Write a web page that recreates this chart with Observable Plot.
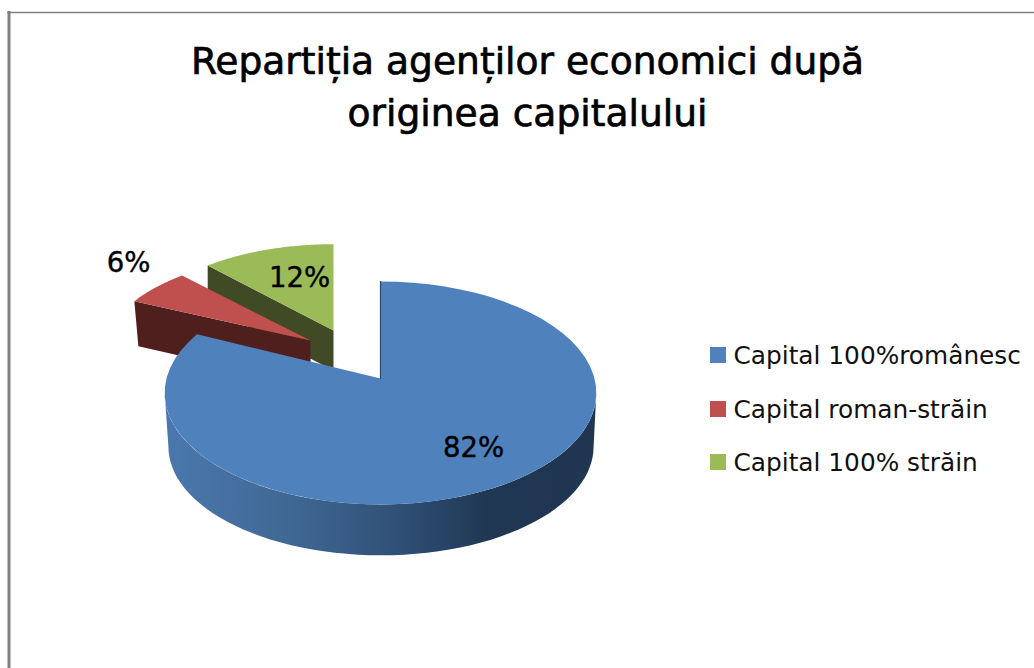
<!DOCTYPE html>
<html><head><meta charset="utf-8">
<script src="https://cdn.jsdelivr.net/npm/d3@7"></script>
<script src="https://cdn.jsdelivr.net/npm/@observablehq/plot@0.6"></script>
<style>html,body{margin:0;padding:0;background:#fff}svg{display:block}</style>
</head><body><div id="chart"></div>
<script>
const categories = ["Capital 100%românesc", "Capital roman-străin", "Capital 100% străin"];
const shares = [82, 6, 12];
const titleLines = ["Repartiția agenților economici după", "originea capitalului"];
const topColors = ["#4f81bd", "#c0504d", "#9bbb59"];
const wallColors = ["#1f3550", "#4f1f1e", "#404a24"];

const W = 1034, H = 668, FONT = "Tahoma, 'DejaVu Sans', sans-serif";
const persp = 0.13, R = 214, A = 109.6;
// angular extents in degrees, clockwise from 12 o'clock
const starts = [], ends = [];
shares.reduce((acc, s, i) => { starts[i] = acc; ends[i] = acc + s * 3.6; return ends[i]; }, 0);

const pt = (deg, o) => {
  const t = deg * Math.PI / 180, s = 1 + persp * Math.cos(t);
  return {x: o.x + o.sx * R * Math.sin(t) / s, y: o.y - o.sy * A * Math.cos(t) / s};
};
const arc = (a, b, o) => d3.range(0, 61).map(k => pt(a + (b - a) * k / 60, o));

const blueTop = {x: 380, y: 378, sx: 1, sy: 1};
const blueBase = {x: 380.5, y: 432, sx: 0.985, sy: 0.975};
const redTop = {x: 310, y: 340, sx: 0.96, sy: 0.89};
const greenTop = {x: 333, y: 330, sx: 0.94, sy: 0.89};
const apex = o => ({x: o.x, y: o.y});
const sector = (a, b, o) => [apex(o), ...arc(a, b, o)];
const drop = (p, d) => ({x: p.x, y: p.y + d});

const poly = (pts, fill) => Plot.line(pts, {x: "x", y: "y", fill, stroke: "none", curve: "linear-closed"});

const gradient = () => {
  const defs = d3.create("svg:defs");
  const g = defs.append("linearGradient").attr("id", "blueSide").attr("x1", 0).attr("x2", 1).attr("y1", 0).attr("y2", 0);
  [[0, "#4a78ae"], [0.3, "#3f6793"], [0.55, "#2f4f75"], [0.75, "#203753"], [1, "#1f3550"]]
    .forEach(([o, c]) => g.append("stop").attr("offset", o).attr("stop-color", c));
  return defs.node();
};

// green wall (radial face towards the viewer) and top
const gA = pt(ends[1], greenTop);
const greenWall = [apex(greenTop), gA, drop(gA, 40), drop(apex(greenTop), 40)];
// red wall
const rA = pt(starts[1], redTop);
const redWall = [apex(redTop), rA, {x: rA.x + 4, y: rA.y + 45}, drop(apex(redTop), 45)];
// blue outer wall, between the silhouette tangents of the perspective ellipse
const blueWall = [...arc(97.5, 262.5, blueTop), ...arc(262.5, 97.5, blueBase)];
// thin blue wall seen at the 12 o'clock cut
const backEdge = [apex(blueTop), pt(0, blueTop)];

const labels = [
  {text: `${shares[0]}%`, x: 473, y: 448},
  {text: `${shares[1]}%`, x: 128, y: 263},
  {text: `${shares[2]}%`, x: 299, y: 278}
];
const legendY = [355, 409, 462];

const chart = Plot.plot({
  width: W, height: H, margin: 0,
  x: {domain: [0, W], range: [0, W], axis: null},
  y: {domain: [0, H], range: [0, H], axis: null},
  marks: [
    gradient,
    Plot.ruleX([8.5], {y1: 11, y2: H, stroke: "#808080", strokeWidth: 3}),
    Plot.ruleY([12], {x1: 7, x2: W, stroke: "#808080", strokeWidth: 1.3}),
    poly(greenWall, wallColors[2]),
    poly(sector(starts[2], ends[2], greenTop), topColors[2]),
    poly(redWall, wallColors[1]),
    poly(sector(starts[1], ends[1], redTop), topColors[1]),
    poly(blueWall, "url(#blueSide)"),
    poly(sector(starts[0], ends[0], blueTop), topColors[0]),
    Plot.line(backEdge, {x: "x", y: "y", stroke: "#2c4a6e", strokeWidth: 1.2}),
    Plot.text(titleLines, {x: () => 527, y: (d, i) => 61 + i * 52, text: d => d,
      fontFamily: FONT, fontSize: 37.6, fill: "#000", stroke: "#000", strokeWidth: 0.7}),
    Plot.text(labels, {x: "x", y: "y", text: "text", fontFamily: FONT, fontSize: 27.5, fill: "#000", stroke: "#000", strokeWidth: 0.4}),
    Plot.rect(categories, {x1: () => 710, x2: () => 726, y1: (d, i) => legendY[i] - 8, y2: (d, i) => legendY[i] + 8,
      fill: (d, i) => topColors[i], stroke: "none"}),
    Plot.text(categories, {x: () => 733, y: (d, i) => legendY[i] + 1, text: d => d, textAnchor: "start",
      fontFamily: FONT, fontSize: 24.8, fill: "#111"})
  ]
});
chart.style.background = "#fff";
document.getElementById("chart").append(chart);
</script></body></html>
